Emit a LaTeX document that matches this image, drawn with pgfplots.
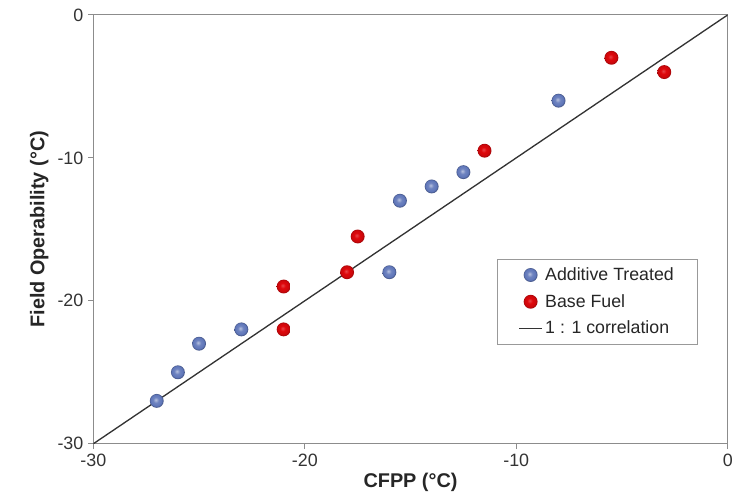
\documentclass[border=0pt]{standalone}
\usepackage{pgfplots}
\pgfplotsset{compat=1.18}
\usepackage{fontspec}
\setmainfont{Liberation Sans}
\usetikzlibrary{calc}
\definecolor{blueball}{RGB}{95,118,185}
\definecolor{redball}{RGB}{222,8,12}
\pgfdeclareradialshading{bshade}{\pgfpoint{-4bp}{4bp}}{color(0bp)=(blueball!45!white); color(10bp)=(blueball!90!white); color(20bp)=(blueball); color(25bp)=(blueball!70!black); color(50bp)=(blueball!70!black)}
\pgfdeclareradialshading{rshade}{\pgfpoint{-4bp}{4bp}}{color(0bp)=(redball!75!white); color(10bp)=(redball); color(20bp)=(redball!92!black); color(25bp)=(redball!72!black); color(50bp)=(redball!72!black)}
\pgfdeclareplotmark{bball}{\pgfpathcircle{\pgfpointorigin}{\pgfplotmarksize}\pgfshadepath{bshade}{0}\pgfusepath{discard}}
\pgfdeclareplotmark{rball}{\pgfpathcircle{\pgfpointorigin}{\pgfplotmarksize}\pgfshadepath{rshade}{0}\pgfusepath{discard}}
\begin{document}
\begin{tikzpicture}
\begin{axis}[name=ax, scale only axis, width=479.25pt, height=324pt,
  xmin=-30, xmax=0, ymin=-30, ymax=0,
  xtick={-30,-20,-10,0}, ytick={-30,-20,-10,0},
  tick align=outside, tick pos=left, major tick length=4pt,
  axis line style={draw=black!45, line width=0.8pt},
  tick style={draw=black!45, line width=0.8pt},
  ticklabel style={font=\fontsize{13.5}{16}\selectfont, text=black!80},
  /pgf/number format/assume math mode=true,
  xlabel={CFPP (°C)}, ylabel={Field Operability (°C)},
  label style={font=\fontsize{15}{18}\selectfont\bfseries, text=black!85},
  xlabel style={yshift=2pt},
  legend style={at={(axis cs:-10.9,-17.1)}, anchor=north west, draw=black!40,
    font=\fontsize{13.4}{16}\selectfont, text=black!85, row sep=5pt,
    inner xsep=16pt, inner ysep=4pt},
  legend cell align=left,
]
\addplot[only marks, mark=bball, mark size=5.25pt] coordinates {
  (-27,-27) (-26,-25) (-25,-23) (-23,-22) (-16,-18) (-15.5,-13) (-14,-12) (-12.5,-11) (-8,-6)
};
\addlegendentry{Additive Treated}
\addplot[only marks, mark=rball, mark size=5.25pt] coordinates {
  (-21,-19) (-21,-22) (-18,-18) (-17.5,-15.5) (-11.5,-9.5) (-5.5,-3) (-3,-4)
};
\addlegendentry{Base Fuel}
\addplot[black!80, line width=1pt] coordinates {(-30,-30) (0,0)};
\addlegendentry{1 : 1 correlation}
\end{axis}
\pgfresetboundingbox
\path ($(ax.south west)+(-70.5pt,-41.25pt)$) rectangle ($(ax.north east)+(5.5pt,11.25pt)$);
\end{tikzpicture}
\end{document}
